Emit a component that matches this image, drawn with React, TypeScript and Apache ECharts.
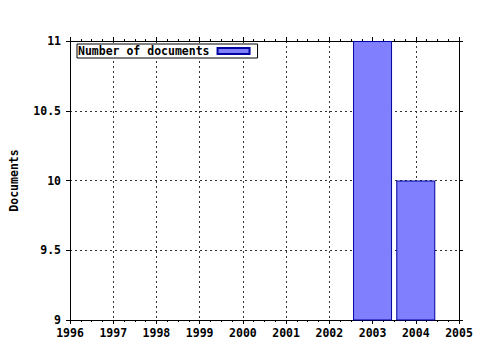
import React, { useEffect, useRef } from "react";
import * as echarts from "echarts";

const years: number[] = [2003, 2004];
const documents: number[] = [11, 10];
const seriesName = "Number of documents";
const yAxisName = "Documents";
const xMin = 1996;
const xMax = 2005;
const yMin = 9;
const yMax = 11;

const FONT = "'DejaVu Sans Mono', monospace";

export default function App() {
  const ref = useRef<HTMLDivElement>(null);
  useEffect(() => {
    if (!ref.current) return;
    const chart = echarts.init(ref.current, null, { renderer: "svg" });
    const labelStyle = { fontFamily: FONT, fontWeight: "bold" as const, fontSize: 11.5, color: "#000" };
    const gridLine = { show: true, lineStyle: { color: "#333", type: [2, 3] as any, width: 1 } };
    chart.setOption({
      animation: false,
      backgroundColor: "#fff",
      grid: { left: 70, top: 41, right: 21, bottom: 30 },
      legend: {
        left: 77,
        top: 44,
        align: "right",
        orient: "horizontal",
        icon: "rect",
        itemWidth: 32,
        itemHeight: 6,
        padding: [1, 7, 1, 1],
        borderColor: "#000",
        borderWidth: 1,
        borderRadius: 0,
        backgroundColor: "#fff",
        textStyle: { ...labelStyle, padding: [0, 3, 0, 0] },
        data: [seriesName],
      },
      xAxis: [
        {
          type: "value",
          position: "bottom",
          min: xMin,
          max: xMax,
          interval: 1,
          axisLine: { show: true, lineStyle: { color: "#000" } },
          axisTick: { show: true, inside: false, length: 4, lineStyle: { color: "#000" } },
          minorTick: { show: true, splitNumber: 4, length: 2, lineStyle: { color: "#000" } },
          splitLine: gridLine,
          axisLabel: { ...labelStyle, margin: 7, formatter: (v: number) => String(v) },
        },
        {
          type: "value",
          position: "top",
          min: xMin,
          max: xMax,
          interval: 1,
          axisLine: { show: true, lineStyle: { color: "#000" } },
          axisTick: { show: true, inside: false, length: 4, lineStyle: { color: "#000" } },
          minorTick: { show: true, splitNumber: 4, length: 2, lineStyle: { color: "#000" } },
          splitLine: { show: false },
          axisLabel: { show: false },
        },
      ],
      yAxis: [
        {
          type: "value",
          position: "left",
          min: yMin,
          max: yMax,
          interval: 0.5,
          name: yAxisName,
          nameLocation: "middle",
          nameGap: 50,
          nameRotate: 90,
          nameTextStyle: labelStyle,
          axisLine: { show: true, lineStyle: { color: "#000" } },
          axisTick: { show: true, inside: false, length: 4, lineStyle: { color: "#000" } },
          splitLine: gridLine,
          axisLabel: { ...labelStyle, margin: 9 },
        },
        {
          type: "value",
          position: "right",
          min: yMin,
          max: yMax,
          interval: 0.5,
          axisLine: { show: true, lineStyle: { color: "#000" } },
          axisTick: { show: true, inside: false, length: 4, lineStyle: { color: "#000" } },
          splitLine: { show: false },
          axisLabel: { show: false },
        },
      ],
      series: [
        {
          name: seriesName,
          type: "bar",
          xAxisIndex: 0,
          yAxisIndex: 0,
          barWidth: 39,
          data: years.map((y, i) => [y, documents[i]]),
          itemStyle: { color: "#8080ff", borderColor: "#0000a0", borderWidth: 1 },
        },
      ],
    });
    return () => chart.dispose();
  }, []);
  return <div ref={ref} style={{ position: "fixed", left: 0, top: 0, width: 480, height: 350 }} />;
}
